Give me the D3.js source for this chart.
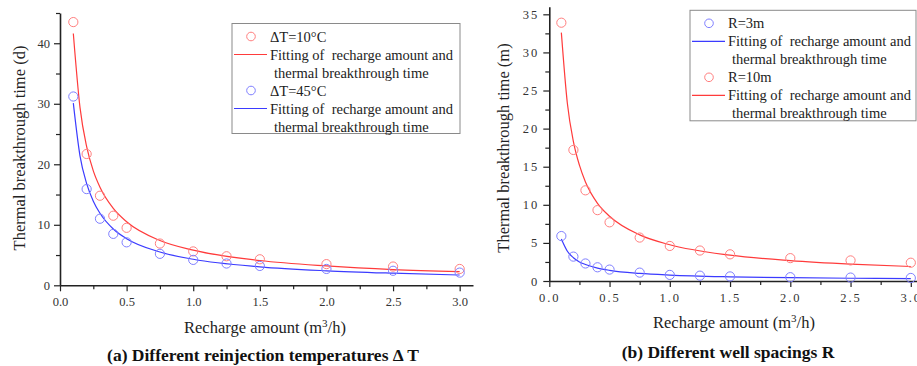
<!DOCTYPE html>
<html>
<head>
<meta charset="utf-8">
<script src="https://cdn.jsdelivr.net/npm/d3@7"></script>
<style>
  body { margin: 0; background: #fff; }
  svg text { font-family: "Liberation Serif", "Times New Roman", serif; white-space: pre; }
</style>
</head>
<body>
<div id="frame"></div>
<script>
const width = 917, height = 366;

// recharge amount (m3/h) at the simulated points
const rechargeX = [0.1, 0.2, 0.3, 0.4, 0.5, 0.75, 1.0, 1.25, 1.5, 2.0, 2.5, 3.0];
const fitX = [0.1, 0.15, 0.2, 0.25, 0.3, 0.4, 0.5, 0.75, 1.0, 1.5, 2.0, 2.5, 3.0];

// panel (a) - reinjection temperature
const dT10Points = [43.5, 21.7, 14.8, 11.5, 9.5, 6.9, 5.6, 4.8, 4.3, 3.5, 3.1, 2.7];
const dT45Points = [31.2, 15.9, 11.0, 8.5, 7.1, 5.2, 4.2, 3.6, 3.2, 2.7, 2.4, 2.1];
const dT10Fit = [41.6, 29.4, 22.9, 18.9, 16.2, 12.7, 10.5, 7.4, 5.8, 4.1, 3.2, 2.6, 2.25];
const dT45Fit = [30.1, 21.4, 16.8, 13.9, 11.9, 9.3, 7.7, 5.5, 4.3, 3.05, 2.4, 2.0, 1.7];

// panel (b) - well spacing
const r3Points = [5.9, 3.2, 2.3, 1.8, 1.5, 1.1, 0.8, 0.7, 0.6, 0.5, 0.45, 0.4];
const r10Points = [33.9, 17.2, 11.9, 9.3, 7.7, 5.7, 4.6, 4.0, 3.5, 3.0, 2.7, 2.4];
const r3Fit = [5.5, 3.9, 3.05, 2.5, 2.17, 1.7, 1.4, 1.0, 0.78, 0.55, 0.43, 0.36, 0.31];
const r10Fit = [32.6, 23.3, 18.3, 15.2, 13.0, 10.2, 8.5, 6.05, 4.76, 3.39, 2.67, 2.21, 1.9];

const xMajor = [0, 0.5, 1.0, 1.5, 2.0, 2.5, 3.0];
const xMinor = [0.25, 0.75, 1.25, 1.75, 2.25, 2.75];
const yMajorA = [0, 10, 20, 30, 40];
const yMinorA = [5, 15, 25, 35, 45];
const yMajorB = [0, 5, 10, 15, 20, 25, 30, 35];
const yMinorB = [2.5, 7.5, 12.5, 17.5, 22.5, 27.5, 32.5];

const fitLabel1 = 'Fitting of  recharge amount and';
const fitLabel2 = 'thermal breakthrough time';

const RED_LINE = '#ff3b3b', BLUE_LINE = '#3b3bff';
const RED_MARK = '#ff7f7f', BLUE_MARK = '#7f7fff';

const svg = d3.select('#frame')
    .append('svg')
    .attr('width', width)
    .attr('height', height);

function drawPanel(p) {
    const x = d3.scaleLinear().domain([0, 3.1]).range([p.left, p.right]);
    const y = d3.scaleLinear().domain([0, p.yMax]).range([p.bottom, p.top]);
    const g = svg.append('g');

    // minor ticks first, then major ticks with labels
    g.append('g')
        .attr('transform', `translate(0,${p.bottom})`)
        .call(d3.axisBottom(x).tickValues(xMinor).tickSize(4).tickFormat(''))
        .call(a => a.select('.domain').remove());
    g.append('g')
        .attr('transform', `translate(${p.left},0)`)
        .call(d3.axisLeft(y).tickValues(p.yMinor).tickSize(4).tickFormat(''))
        .call(a => a.select('.domain').remove());

    const xAxis = g.append('g')
        .attr('transform', `translate(0,${p.bottom})`)
        .call(d3.axisBottom(x).tickValues(xMajor).tickSize(6).tickSizeOuter(0).tickPadding(6)
            .tickFormat(d3.format('.1f')));
    const yAxis = g.append('g')
        .attr('transform', `translate(${p.left},0)`)
        .call(d3.axisLeft(y).tickValues(p.yMajor).tickSize(6).tickSizeOuter(0).tickPadding(4)
            .tickFormat(d3.format('d')));

    [xAxis, yAxis].forEach(a => {
        a.selectAll('.domain').attr('stroke', '#222').attr('stroke-width', 1.6);
        a.selectAll('line').attr('stroke', '#222').attr('stroke-width', 1.2);
        a.selectAll('text')
            .style('font-family', p.tickFont)
            .style('font-size', '12.5px')
            .style('letter-spacing', p.tickSpacing)
            .attr('fill', '#333');
    });
    g.selectAll('g.tick line').attr('stroke', '#222').attr('stroke-width', 1.2);

    // fitted curves and points
    const line = d3.line()
        .x((d, i) => x(fitX[i]))
        .y(d => y(d))
        .curve(d3.curveMonotoneX);

    p.series.forEach(s => {
        g.append('path')
            .datum(s.fit)
            .attr('d', line)
            .attr('fill', 'none')
            .attr('stroke', s.line)
            .attr('stroke-width', 1.2);
        g.selectAll(null)
            .data(s.points)
            .enter()
            .append('circle')
            .attr('cx', (d, i) => x(rechargeX[i]))
            .attr('cy', d => y(d))
            .attr('r', 4.6)
            .attr('fill', 'none')
            .attr('stroke', s.mark)
            .attr('stroke-width', 1);
    });

    // axis titles
    svg.append('text')
        .attr('transform', `translate(${p.yTitleX},${p.yTitleY}) rotate(-90)`)
        .attr('text-anchor', 'middle')
        .attr('dy', '0.35em')
        .style('font-size', '16.5px')
        .attr('fill', '#222')
        .text(p.yTitle);

    const xt = svg.append('text')
        .attr('x', p.xTitleX)
        .attr('y', p.xTitleY)
        .attr('text-anchor', 'middle')
        .style('font-size', '16.5px')
        .attr('fill', '#222');
    xt.append('tspan').text('Recharge amount (m');
    xt.append('tspan').attr('dy', -6).style('font-size', '11px').text('3');
    xt.append('tspan').attr('dy', 6).text('/h)');

    svg.append('text')
        .attr('x', p.subX)
        .attr('y', p.subY)
        .attr('text-anchor', 'middle')
        .style('font-size', '17.5px')
        .style('font-weight', 'bold')
        .attr('fill', '#111')
        .text(p.subtitle);

    // legend
    const lg = svg.append('g').attr('transform', `translate(${p.legX},${p.legY})`);
    lg.append('rect')
        .attr('width', p.legW)
        .attr('height', p.legH)
        .attr('fill', '#fff')
        .attr('stroke', '#8a8a8a')
        .attr('stroke-width', 1);
    p.series.forEach((s, k) => {
        const y0 = 13 + k * 54;
        lg.append('circle')
            .attr('cx', 19)
            .attr('cy', y0)
            .attr('r', 4.3)
            .attr('fill', 'none')
            .attr('stroke', s.mark);
        lg.append('text').attr('x', 38).attr('y', y0).attr('dy', '0.35em')
            .style('font-size', '14.5px').attr('fill', '#222').text(s.name);
        lg.append('line')
            .attr('x1', 2).attr('x2', 35)
            .attr('y1', y0 + 18).attr('y2', y0 + 18)
            .attr('stroke', s.line).attr('stroke-width', 1.2);
        lg.append('text').attr('x', 38).attr('y', y0 + 18).attr('dy', '0.35em')
            .style('font-size', '14.5px').attr('fill', '#222').text(fitLabel1);
        lg.append('text').attr('x', 42).attr('y', y0 + 36).attr('dy', '0.35em')
            .style('font-size', '14.5px').attr('fill', '#222').text(fitLabel2);
    });
}

drawPanel({
    left: 60, right: 473, top: 13, bottom: 285.3, yMax: 45,
    yMajor: yMajorA, yMinor: yMinorA,
    tickFont: '"Liberation Serif", serif', tickSpacing: '0px',
    yTitle: 'Thermal breakthrough time (d)', yTitleX: 19, yTitleY: 148,
    xTitleX: 265, xTitleY: 333,
    subtitle: '(a) Different reinjection temperatures \u0394 T', subX: 263, subY: 361,
    legX: 232, legY: 23.5, legW: 228, legH: 110,
    series: [
        { name: '\u0394T=10\u00b0C', points: dT10Points, fit: dT10Fit, line: RED_LINE, mark: RED_MARK },
        { name: '\u0394T=45\u00b0C', points: dT45Points, fit: dT45Fit, line: BLUE_LINE, mark: BLUE_MARK }
    ]
});

drawPanel({
    left: 549.3, right: 549.3 + 3.1 * 120.5, top: 6.7, bottom: 281, yMax: 36,
    yMajor: yMajorB, yMinor: yMinorB,
    tickFont: '"Liberation Serif", serif', tickSpacing: '2px',
    yTitle: 'Thermal breakthrough time (m)', yTitleX: 503, yTitleY: 148,
    xTitleX: 734, xTitleY: 328,
    subtitle: '(b) Different well spacings R', subX: 728, subY: 358,
    legX: 690, legY: 10.3, legW: 226, legH: 110.5,
    series: [
        { name: 'R=3m', points: r3Points, fit: r3Fit, line: BLUE_LINE, mark: BLUE_MARK },
        { name: 'R=10m', points: r10Points, fit: r10Fit, line: RED_LINE, mark: RED_MARK }
    ]
});
</script>
</body>
</html>
